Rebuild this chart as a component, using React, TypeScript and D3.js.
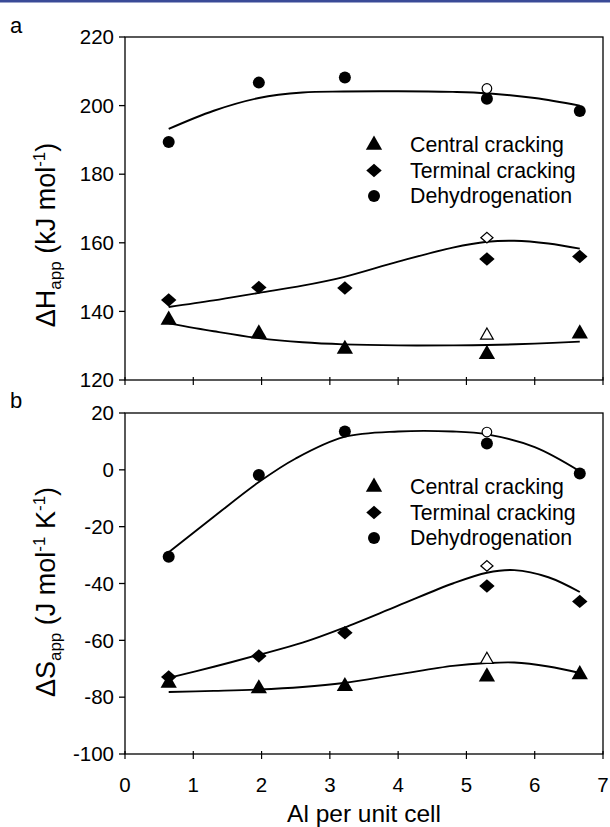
import React from 'react';
import * as d3 from 'd3';

// Al per unit cell for each sample
const alValues = [0.64, 1.96, 3.22, 5.3, 6.66];

// panel a: apparent enthalpy (kJ/mol)
const hCentral = [137.5, 133.5, 129, 127.5, 133.5];
const hTerminal = [143.3, 147, 146.8, 155.3, 156];
const hDehydro = [189.4, 206.7, 208.2, 202, 198.4];
// open symbols at x = 5.3
const hOpen = { central: 133, terminal: 161.5, dehydro: 205 };

// fitted lines [x, y]
const hCentralFit: [number, number][] = [[0.64, 136.5], [1.3, 134.2], [1.96, 132.2], [2.6, 131], [3.2, 130.4], [4.0, 130.1], [4.8, 130.1], [5.3, 130.2], [6.0, 130.6], [6.66, 131.2]];
const hTerminalFit: [number, number][] = [[0.64, 141.3], [1.3, 143.2], [1.96, 145.4], [2.6, 147.5], [3.2, 150], [4.0, 154.5], [4.8, 158.6], [5.3, 160.3], [5.7, 160.6], [6.2, 159.8], [6.66, 158.3]];
const hDehydroFit: [number, number][] = [[0.64, 193.2], [1.3, 198.5], [1.96, 202.2], [2.6, 203.8], [3.2, 204.1], [4.0, 204.2], [4.8, 204], [5.3, 203.6], [6.0, 202.2], [6.66, 200]];

// panel b: apparent entropy (J/mol/K)
const sCentral = [-75, -77, -76.2, -72.8, -72];
const sTerminal = [-72.9, -65.5, -57.3, -40.9, -46.3];
const sDehydro = [-30.6, -1.8, 13.5, 9.3, -1.3];
const sOpen = { central: -66.8, terminal: -33.8, dehydro: 13.3 };

const sCentralFit: [number, number][] = [[0.64, -78.2], [1.3, -77.8], [1.96, -77.3], [2.6, -76.4], [3.2, -75], [4.0, -72], [4.8, -69], [5.3, -68], [5.7, -67.8], [6.2, -69.2], [6.66, -71.5]];
const sTerminalFit: [number, number][] = [[0.64, -73.2], [1.3, -69.3], [1.96, -65.1], [2.6, -60.8], [3.2, -55.6], [4.0, -47.8], [4.8, -40], [5.3, -36.2], [5.7, -35.3], [6.2, -37.8], [6.66, -43]];
const sDehydroFit: [number, number][] = [[0.64, -29], [1.3, -16.5], [1.96, -4.3], [2.5, 4], [3.2, 11.5], [4.0, 13.5], [4.8, 13.5], [5.3, 12.5], [6.0, 8], [6.66, -0.5]];

const xTicks = [0, 1, 2, 3, 4, 5, 6, 7];
const hTicks = [120, 140, 160, 180, 200, 220];
const sTicks = [-100, -80, -60, -40, -20, 0, 20];
const legendNames = ['Central cracking', 'Terminal cracking', 'Dehydrogenation'];

const FONT = "'Liberation Sans', Arial, sans-serif";
const W = 610;
const H = 827;
const left = 125;
const right = 603;

type Shape = 'tri' | 'dia' | 'cir';

function Marker({ shape, x, y, open = false }: { shape: Shape; x: number; y: number; open?: boolean }) {
    const fill = open ? '#fff' : '#000';
    const sw = open ? 1.2 : 0;
    if (shape === 'cir') {
        return <circle cx={x} cy={y} r={open ? 4.8 : 6} fill={fill} stroke="#000" strokeWidth={sw} />;
    }
    const sym = d3.symbol().type(shape === 'tri' ? d3.symbolTriangle : d3.symbolDiamond2).size(open ? 70 : 115);
    return <path d={sym() || ''} transform={`translate(${x},${y})${shape === 'dia' ? ' scale(1.15,1)' : ''}`} fill={fill} stroke="#000" strokeWidth={sw} />;
}

interface PanelProps {
    top: number;
    bottom: number;
    domain: [number, number];
    ticks: number[];
    series: number[][];
    open: { central: number; terminal: number; dehydro: number };
    fits: [number, number][][];
    showXLabels: boolean;
    legendY: number;
}

function Panel({ top, bottom, domain, ticks, series, open, fits, showXLabels, legendY }: PanelProps) {
    const x = d3.scaleLinear().domain([0, 7]).range([left, right]);
    const y = d3.scaleLinear().domain(domain).range([bottom, top]);
    const line = d3.line<[number, number]>()
        .x(d => x(d[0]))
        .y(d => y(d[1]))
        .curve(d3.curveCatmullRom.alpha(0.5));
    const shapes: Shape[] = ['tri', 'dia', 'cir'];
    const openVals = [open.central, open.terminal, open.dehydro];

    return (
        <g>
            <rect x={left} y={top} width={right - left} height={bottom - top} fill="none" stroke="#000" strokeWidth={1.3} />
            {ticks.map(t => (
                <g key={'y' + t}>
                    <line x1={left - 6} x2={left} y1={y(t)} y2={y(t)} stroke="#000" strokeWidth={1.3} />
                    <text x={left - 11} y={y(t)} dy="0.35em" textAnchor="end" fontSize={20.5} fontFamily={FONT}>{t}</text>
                </g>
            ))}
            {xTicks.map(t => (
                <g key={'x' + t}>
                    <line x1={x(t)} x2={x(t)} y1={bottom - 3} y2={bottom + 5} stroke="#000" strokeWidth={1.2} />
                    {showXLabels && (
                        <text x={x(t)} y={bottom + 38} textAnchor="middle" fontSize={20.5} fontFamily={FONT}>{t}</text>
                    )}
                </g>
            ))}
            {fits.map((f, i) => (
                <path key={'f' + i} d={line(f) || ''} fill="none" stroke="#000" strokeWidth={1.9} />
            ))}
            {series.map((s, i) => s.map((v, j) => (
                <Marker key={`m${i}-${j}`} shape={shapes[i]} x={x(alValues[j])} y={y(v)} />
            )))}
            {openVals.map((v, i) => (
                <Marker key={'o' + i} shape={shapes[i]} x={x(5.3)} y={y(v)} open />
            ))}
            {legendNames.map((n, i) => (
                <g key={n}>
                    <Marker shape={shapes[i]} x={374} y={legendY + i * 25.5} />
                    <text x={410} y={legendY + i * 25.5} dy="0.35em" fontSize={21.3} fontFamily={FONT}>{n}</text>
                </g>
            ))}
        </g>
    );
}

export default function App() {
    return (
        <svg width={W} height={H} style={{ position: 'absolute', left: 0, top: 0, background: '#fff' }}>
            <rect x={0} y={0} width={W} height={2.5} fill="#3a4b97" />
            <text x={10} y={33} fontSize={22} fontFamily={FONT}>a</text>
            <text x={10} y={408} fontSize={22} fontFamily={FONT}>b</text>

            <Panel top={37} bottom={380} domain={[120, 220]} ticks={hTicks}
                series={[hCentral, hTerminal, hDehydro]} open={hOpen}
                fits={[hCentralFit, hTerminalFit, hDehydroFit]} showXLabels={false} legendY={145} />
            <Panel top={413} bottom={754} domain={[-100, 20]} ticks={sTicks}
                series={[sCentral, sTerminal, sDehydro]} open={sOpen}
                fits={[sCentralFit, sTerminalFit, sDehydroFit]} showXLabels legendY={487} />

            <text transform="translate(55,235) rotate(-90)" textAnchor="middle" fontSize={27} fontFamily={FONT}>
                ΔH<tspan fontSize={17} dy={6}>app</tspan><tspan dy={-6}> (kJ mol</tspan><tspan fontSize={17} dy={-10}>-1</tspan><tspan dy={10}>)</tspan>
            </text>
            <text transform="translate(55,592) rotate(-90)" textAnchor="middle" fontSize={27} fontFamily={FONT}>
                ΔS<tspan fontSize={17} dy={6}>app</tspan><tspan dy={-6}> (J mol</tspan><tspan fontSize={17} dy={-10}>-1</tspan><tspan dy={10}> K</tspan><tspan fontSize={17} dy={-10}>-1</tspan><tspan dy={10}>)</tspan>
            </text>
            <text x={(left + right) / 2} y={822} textAnchor="middle" fontSize={24.5} fontFamily={FONT}>Al per unit cell</text>
        </svg>
    );
}
